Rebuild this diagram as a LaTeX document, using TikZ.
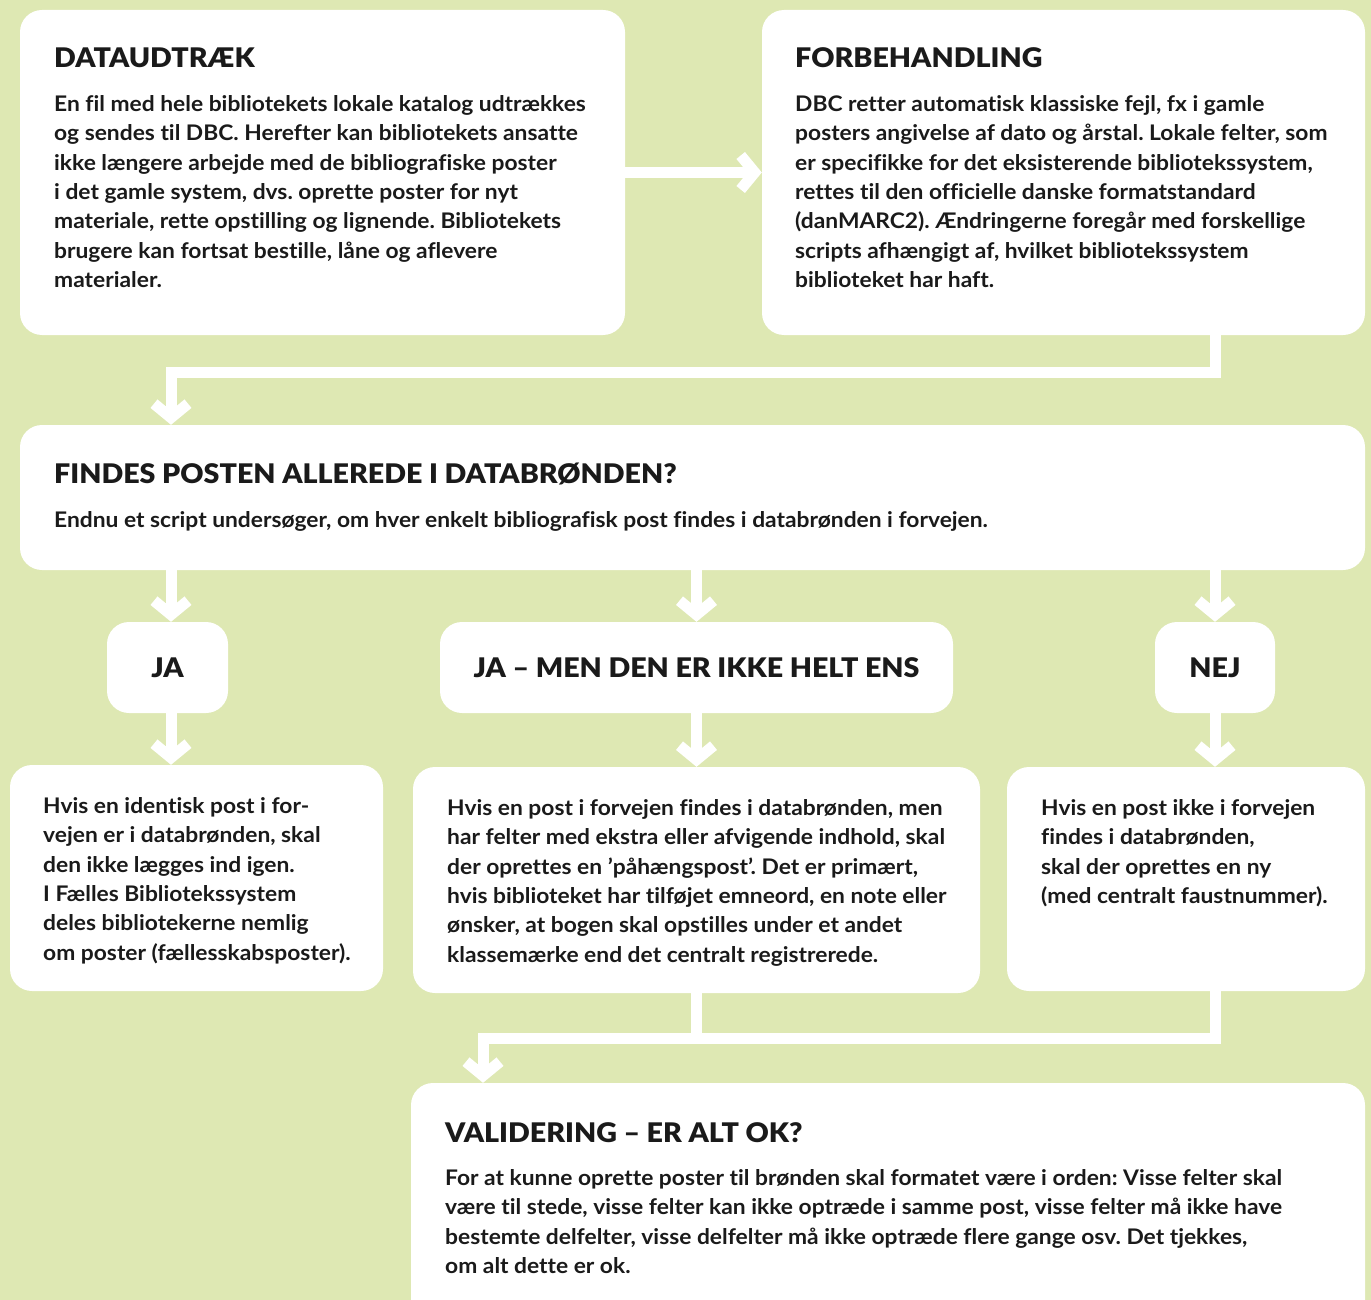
\documentclass[tikz,border=0pt]{standalone}
\usepackage{fontspec}
\setmainfont{Lato}[UprightFont={* Bold},BoldFont={* Black},Ligatures=NoCommon]
\newfontfamily\bodyf{Lato Bold}[FakeStretch=1.06,Ligatures=NoCommon]
\newfontfamily\hdf{Lato Black}[FakeStretch=1.06,Ligatures=NoCommon]
\usetikzlibrary{arrows.meta}
\definecolor{bg}{HTML}{DEE8B3}
\definecolor{ink}{HTML}{1A1A1A}
\frenchspacing
\begin{document}
\begin{tikzpicture}[x=1pt,y=-1pt,
 box/.style={fill=white, rounded corners=22pt, inner sep=0pt, draw=none},
 tagbox/.style={box, font=\hdf\fontsize{27}{30}\selectfont, text=ink},
 hdr/.style={anchor=base west, inner sep=0pt, font=\hdf\fontsize{27}{30}\selectfont, text=ink},
 body/.style={anchor=north west, inner sep=0pt, align=left, font=\bodyf\fontsize{21.5}{29.4}\selectfont, text=ink},
 line/.style={draw=white, line width=11pt, line join=miter},
 conn/.style={line, -{Straight Barb[sharp, length=14pt, width=34pt]}},
]
\useasboundingbox (0,0) rectangle (1371,1300);
\clip (0,0) rectangle (1371,1300);
\fill[bg] (0,0) rectangle (1371,1300);

% boxes
\node[box, minimum width=605pt, minimum height=325pt] (b1) at (322.5,172.5) {};
\node[box, minimum width=603pt, minimum height=325pt] (b2) at (1063.5,172.5) {};
\node[box, minimum width=1345pt, minimum height=145pt] (b3) at (692.5,497.5) {};
\node[tagbox, minimum width=121pt, minimum height=91pt] (ja) at (167.5,667.5) {JA};
\node[tagbox, minimum width=513pt, minimum height=91pt] (jm) at (696.5,667.5) {JA – MEN DEN ER IKKE HELT ENS};
\node[tagbox, minimum width=120pt, minimum height=91pt] (nej) at (1215,667.5) {NEJ};
\node[box, minimum width=373pt, minimum height=226pt] (bl) at (196.5,878) {};
\node[box, minimum width=567pt, minimum height=226pt] (bm) at (696.5,880) {};
\node[box, minimum width=358pt, minimum height=224pt] (br) at (1186,879) {};
\node[box, minimum width=954pt, minimum height=257pt] (val) at (888,1211.5) {};

% texts
\node[hdr] (h1) at (54,68) {DATAUDTRÆK};
\node[body] (t1) at (54,90.5) {\strut En fil med hele bibliotekets lokale katalog udtrækkes\\
og sendes til DBC. Herefter kan bibliotekets ansatte\\
ikke længere arbejde med de bibliografiske poster\\
i det gamle system, dvs. oprette poster for nyt\\
materiale, rette opstilling og lignende. Bibliotekets\\
brugere kan fortsat bestille, låne og aflevere\\
materialer.};

\node[hdr] (h2) at (795,68) {FORBEHANDLING};
\node[body] (t2) at (795,90.5) {\strut DBC retter automatisk klassiske fejl, fx i gamle\\
posters angivelse af dato og årstal. Lokale felter, som\\
er specifikke for det eksisterende bibliotekssystem,\\
rettes til den officielle danske formatstandard\\
(danMARC2). Ændringerne foregår med forskellige\\
scripts afhængigt af, hvilket bibliotekssystem\\
biblioteket har haft.};

\node[hdr] (h3) at (54,483) {FINDES POSTEN ALLEREDE I DATABRØNDEN?};
\node[body] (t3) at (54,506.5) {\strut Endnu et script undersøger, om hver enkelt bibliografisk post findes i databrønden i forvejen.};

\node[body] (tl) at (43,792.5) {\strut Hvis en identisk post i for-\\
vejen er i databrønden, skal\\
den ikke lægges ind igen.\\
I Fælles Bibliotekssystem\\
deles bibliotekerne nemlig\\
om poster (fællesskabsposter).};

\node[body] (tm) at (447,794.5) {\strut Hvis en post i forvejen findes i databrønden, men\\
har felter med ekstra eller afvigende indhold, skal\\
der oprettes en ’påhængspost’. Det er primært,\\
hvis biblioteket har tilføjet emneord, en note eller\\
ønsker, at bogen skal opstilles under et andet\\
klassemærke end det centralt registrerede.};

\node[body] (tr) at (1041,794.5) {\strut Hvis en post ikke i forvejen\\
findes i databrønden,\\
skal der oprettes en ny\\
(med centralt faustnummer).};

\node[hdr] (h4) at (445,1142) {VALIDERING – ER ALT OK?};
\node[body] (t4) at (445,1164.5) {\strut For at kunne oprette poster til brønden skal formatet være i orden: Visse felter skal\\
være til stede, visse felter kan ikke optræde i samme post, visse felter må ikke have\\
bestemte delfelter, visse delfelter må ikke optræde flere gange osv. Det tjekkes,\\
om alt dette er ok.};

% connectors
\coordinate (k1) at (171,372);
\coordinate (k2) at (483,1038);
\draw[conn] (b1.east) -- (b2.west);
\draw[conn] (b2.south -| nej) |- (k1) -- (b3.north -| k1);
\draw[conn] (b3.south -| k1) -- (ja.north -| k1);
\draw[conn] (b3.south -| jm) -- (jm.north);
\draw[conn] (b3.south -| nej) -- (nej.north);
\draw[conn] (ja.south -| k1) -- (bl.north -| k1);
\draw[conn] (jm.south) -- (bm.north);
\draw[conn] (nej.south) -- (br.north -| nej);
\draw[line] (bm.south) -- (bm.south |- k2);
\draw[conn] (br.south -| nej) |- (k2) -- (val.north -| k2);
\end{tikzpicture}
\end{document}
